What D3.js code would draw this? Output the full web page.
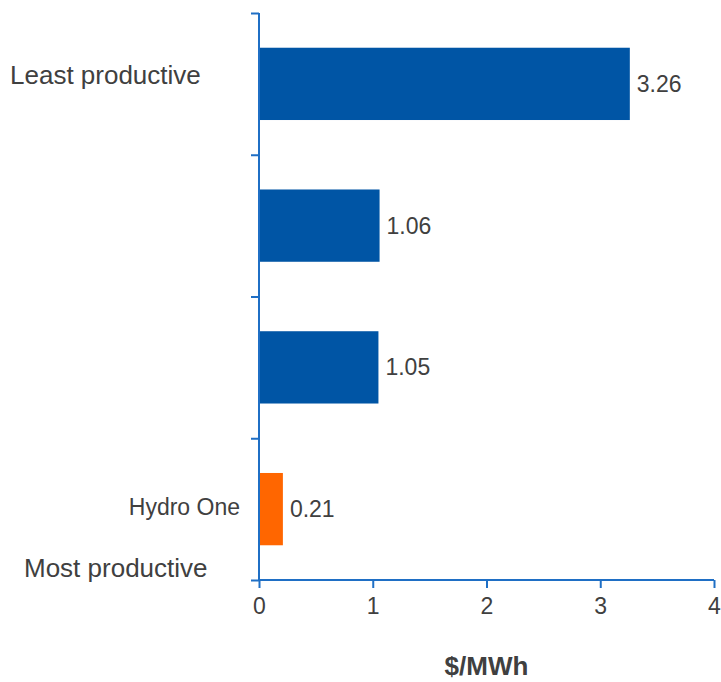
<!DOCTYPE html>
<html>
<head>
<meta charset="utf-8">
<script src="https://cdn.jsdelivr.net/npm/d3@7"></script>
<style>
    body { margin: 0; background: #fff; }
    svg { display: block; font-family: "Liberation Sans", Arial, sans-serif; }
</style>
</head>
<body>
<div id="chart"></div>
<script>
// utilities, least productive at top
const utilities = ['u1', 'u2', 'u3', 'Hydro One'];
const costs = [3.26, 1.06, 1.05, 0.21];
const barColors = ['#0055a5', '#0055a5', '#0055a5', '#ff6600'];
const xTicks = [0, 1, 2, 3, 4];

const width = 721;
const height = 682;
const margin = { top: 13, right: 7, bottom: 102, left: 259 };
const axisColor = '#1f6fc5';
const textColor = '#404040';

const svg = d3.select('#chart')
    .append('svg')
    .attr('width', width)
    .attr('height', height);

const xScale = d3.scaleLinear()
    .domain([0, 4])
    .range([margin.left, width - margin.right]);

const yScale = d3.scaleBand()
    .domain(utilities)
    .range([margin.top, height - margin.bottom])
    .paddingInner(0.49)
    .paddingOuter(0.245);

// band boundary ticks on the y axis
const yEdges = d3.scaleLinear()
    .domain([0, utilities.length])
    .range([margin.top, height - margin.bottom]);

const data = utilities.map((u, i) => ({ name: u, value: costs[i], color: barColors[i] }));

// bars
svg.append('g')
    .selectAll('rect')
    .data(data)
    .join('rect')
    .attr('x', xScale(0))
    .attr('y', (d) => yScale(d.name))
    .attr('width', (d) => xScale(d.value) - xScale(0))
    .attr('height', yScale.bandwidth())
    .attr('fill', (d) => d.color);

// value labels
svg.append('g')
    .selectAll('text')
    .data(data)
    .join('text')
    .attr('x', (d) => xScale(d.value) + 7)
    .attr('y', (d) => yScale(d.name) + yScale.bandwidth() / 2 + 8)
    .attr('font-size', 23)
    .attr('fill', textColor)
    .text((d) => d.value.toFixed(2));

// x axis
const xAxis = svg.append('g')
    .attr('transform', `translate(0, ${height - margin.bottom})`)
    .call(d3.axisBottom(xScale).tickValues(xTicks).tickSize(8).tickPadding(10).tickFormat(d3.format('d')));
xAxis.selectAll('line, path').attr('stroke', axisColor).attr('stroke-width', 2);
xAxis.select('.domain').attr('d', `M${xScale(0)},0H${xScale(4)}`);
xAxis.selectAll('text')
    .attr('font-size', 23)
    .attr('font-family', '"Liberation Sans", Arial, sans-serif')
    .attr('fill', textColor);

// y axis
const yAxis = svg.append('g')
    .attr('transform', `translate(${margin.left}, 0)`)
    .call(d3.axisLeft(yEdges).tickValues(d3.range(utilities.length + 1)).tickSize(8).tickFormat(''));
yAxis.selectAll('line, path').attr('stroke', axisColor).attr('stroke-width', 2);
yAxis.select('.domain').attr('d', `M0,${margin.top}V${height - margin.bottom}`);

// category label (only Hydro One is named)
svg.append('text')
    .attr('x', margin.left - 19)
    .attr('y', yScale('Hydro One') + yScale.bandwidth() / 2 + 6)
    .attr('text-anchor', 'end')
    .attr('font-size', 23)
    .attr('fill', textColor)
    .text('Hydro One');

svg.append('text')
    .attr('x', 10)
    .attr('y', 84)
    .attr('font-size', 26)
    .attr('fill', textColor)
    .text('Least productive');

svg.append('text')
    .attr('x', 24)
    .attr('y', 577)
    .attr('font-size', 26)
    .attr('fill', textColor)
    .text('Most productive');

// axis title
svg.append('text')
    .attr('x', (xScale(0) + xScale(4)) / 2)
    .attr('y', 675)
    .attr('text-anchor', 'middle')
    .attr('font-size', 26)
    .attr('font-weight', 'bold')
    .attr('fill', textColor)
    .text('$/MWh');
</script>
</body>
</html>
